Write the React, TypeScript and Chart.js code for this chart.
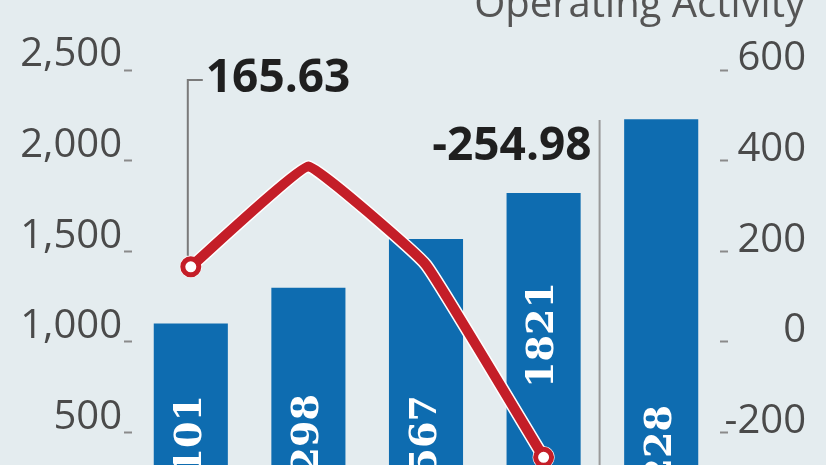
import React, { useEffect, useRef } from "react";
import { Chart, registerables } from "chart.js";

Chart.register(...registerables);

// ---- data ----
const categories = ["Y1", "Y2", "Y3", "Y4", "Y5"];
const revenue = [1101, 1298, 1567, 1821, 2228];
const operatingActivity: (number | null)[] = [165.63, 387, 170, -254.98, null];
const leftAxis = { min: 0, max: 2500, step: 500 };
const rightAxis = { min: -400, max: 600, step: 200 };
const titleText = "Operating Activity";
const calloutFirst = "165.63";
const calloutFourth = "-254.98";

// ---- style ----
const BG = "#e4ecef";
const BAR_COLOR = "#0e6cb0";
const LINE_COLOR = "#c41e28";
const TICK_COLOR = "#4a4a4a";
const TEXT_DARK = "#1f1f1f";
// distance (px) from chart bottom to the centre of each rotated bar label
const BAR_LABEL_LIFT = [75, 76, 75, 188, 65];

const W = 826;
const H = 563;

export default function App() {
  const ref = useRef<HTMLCanvasElement>(null);

  useEffect(() => {
    document.body.style.margin = "0";
    const canvas = ref.current!;

    const overlay = {
      id: "overlay",
      afterDatasetDraw(chart: any, args: any) {
        if (args.index !== 2) return;
        const ctx = chart.ctx;
        const meta = chart.getDatasetMeta(2);
        const bottom = chart.chartArea.bottom;
        ctx.save();
        ctx.fillStyle = "#ffffff";
        ctx.font = "bold 38px 'DejaVu Serif'";
        ctx.textAlign = "center";
        ctx.textBaseline = "middle";
        meta.data.forEach((bar: any, i: number) => {
          ctx.save();
          ctx.translate(bar.x, bottom - BAR_LABEL_LIFT[i]);
          ctx.rotate(-Math.PI / 2);
          ctx.fillText(String(revenue[i]), 0, 0);
          ctx.restore();
        });
        ctx.restore();
      },
      afterDraw(chart: any) {
        const ctx = chart.ctx;
        const { top, bottom } = chart.chartArea;
        const meta = chart.getDatasetMeta(0);
        const p1 = meta.data[0];
        const p4 = meta.data[3];
        ctx.save();
        // title (partly cut off at the top)
        ctx.fillStyle = "#555555";
        ctx.font = "40px 'Open Sans'";
        ctx.textAlign = "right";
        ctx.textBaseline = "alphabetic";
        ctx.fillText(titleText, 805, 17);

        // callout 1 leader
        ctx.strokeStyle = "#7a7a7a";
        ctx.lineWidth = 2;
        ctx.beginPath();
        ctx.moveTo(p1.x + 12, top + 10);
        ctx.lineTo(p1.x - 3, top + 10);
        ctx.lineTo(p1.x - 3, p1.y - 11);
        ctx.stroke();
        // callout 4 leader
        ctx.strokeStyle = "#9a9a9a";
        ctx.beginPath();
        ctx.moveTo(p4.x + 56, top + 50);
        ctx.lineTo(p4.x + 56, bottom);
        ctx.stroke();

        ctx.fillStyle = TEXT_DARK;
        ctx.font = "bold 46px 'Open Sans'";
        ctx.textAlign = "left";
        ctx.fillText(calloutFirst, p1.x + 15, top + 22);
        ctx.textAlign = "right";
        ctx.fillText(calloutFourth, p4.x + 48, top + 90);
        ctx.restore();
      },
    };

    const tickFont = { family: "'Open Sans'", size: 40 };

    const chart = new Chart(canvas, {
      type: "bar",
      data: {
        labels: categories,
        datasets: [
          {
            type: "line",
            data: operatingActivity,
            yAxisID: "y1",
            borderColor: LINE_COLOR,
            borderWidth: 10,
            borderJoinStyle: "miter",
            pointRadius: [8, 0, 0, 8, 0],
            pointBackgroundColor: "#ffffff",
            pointBorderColor: LINE_COLOR,
            pointBorderWidth: 5,
            tension: 0.08,
            order: 1,
          } as any,
          {
            type: "line",
            data: operatingActivity,
            yAxisID: "y1",
            borderColor: "#ffffff",
            borderWidth: 13,
            borderJoinStyle: "miter",
            pointRadius: [11, 0, 0, 11, 0],
            pointBackgroundColor: "#ffffff",
            pointBorderColor: "#ffffff",
            pointBorderWidth: 0,
            tension: 0.08,
            order: 2,
          } as any,
          {
            type: "bar",
            data: revenue,
            yAxisID: "y",
            backgroundColor: BAR_COLOR,
            barPercentage: 0.63,
            categoryPercentage: 1,
            order: 3,
          } as any,
        ],
      },
      options: {
        responsive: false,
        maintainAspectRatio: false,
        animation: false,
        layout: { padding: { top: 70, bottom: 40, left: 0, right: 20 } },
        plugins: { legend: { display: false }, tooltip: { enabled: false } },
        scales: {
          x: { display: false, offset: true },
          y: {
            position: "left",
            min: leftAxis.min,
            max: leftAxis.max,
            ticks: {
              stepSize: leftAxis.step,
              color: TICK_COLOR,
              font: tickFont,
              padding: 2,
              labelOffset: -15,
            },
            grid: {
              drawOnChartArea: false,
              drawTicks: true,
              tickLength: 8,
              tickColor: "#8a8a8a",
              tickWidth: 2,
            },
            border: { display: false },
            afterFit: (s: any) => {
              s.width = 132;
            },
          },
          y1: {
            position: "right",
            min: rightAxis.min,
            max: rightAxis.max,
            ticks: {
              stepSize: rightAxis.step,
              color: TICK_COLOR,
              font: tickFont,
              padding: 2,
              labelOffset: -11,
              crossAlign: "far",
            },
            grid: {
              drawOnChartArea: false,
              drawTicks: true,
              tickLength: 8,
              tickColor: "#8a8a8a",
              tickWidth: 2,
            },
            border: { display: false },
            afterFit: (s: any) => {
              s.width = 86;
            },
          },
        } as any,
      },
      plugins: [overlay],
    });

    return () => chart.destroy();
  }, []);

  return (
    <div
      style={{
        position: "fixed",
        left: 0,
        top: 0,
        width: W,
        height: 465,
        overflow: "hidden",
        background: BG,
      }}
    >
      <canvas ref={ref} width={W} height={H} style={{ display: "block", width: W, height: H }} />
    </div>
  );
}
